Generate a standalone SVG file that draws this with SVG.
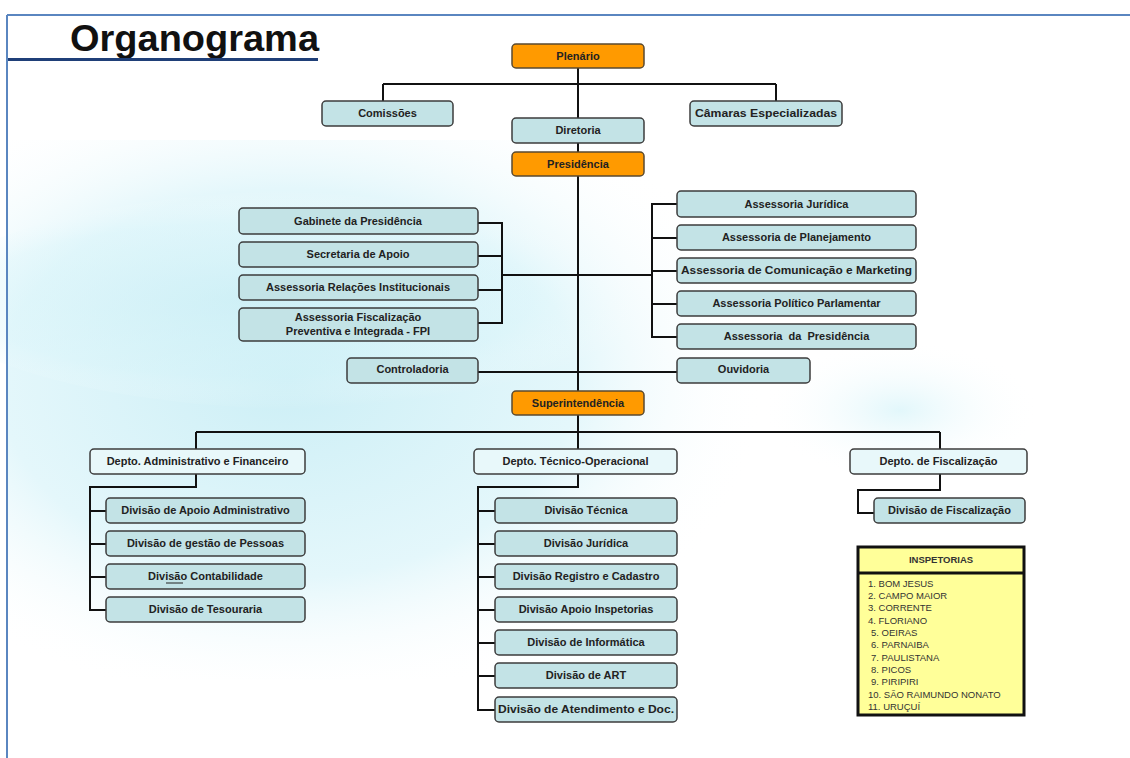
<svg xmlns="http://www.w3.org/2000/svg" width="1130" height="758" viewBox="0 0 1130 758">
<defs>
<radialGradient id="bg1" cx="0.35" cy="0.45" r="0.6">
<stop offset="0" stop-color="#cdeff6"/>
<stop offset="0.6" stop-color="#e4f7fb"/>
<stop offset="1" stop-color="#ffffff" stop-opacity="0"/>
</radialGradient>
<radialGradient id="band" cx="0.4" cy="0.5" r="0.5">
<stop offset="0" stop-color="#c9eef5" stop-opacity="0.6"/>
<stop offset="0.7" stop-color="#d9f5fa" stop-opacity="0.35"/>
<stop offset="1" stop-color="#ffffff" stop-opacity="0"/>
</radialGradient>
<radialGradient id="bg2" cx="0.5" cy="0.5" r="0.5">
<stop offset="0" stop-color="#e2f7fb"/>
<stop offset="1" stop-color="#ffffff" stop-opacity="0"/>
</radialGradient>
</defs>
<style>
.box{fill:#c3e3e6;stroke:#3d3d3d;stroke-width:1.5}
.dep{fill:#e8f8fa;stroke:#3d3d3d;stroke-width:1.5}
.org{fill:#ff9a00;stroke:#5a4a30;stroke-width:1.5}
.t{font-family:"Liberation Sans",Arial,sans-serif;font-weight:bold;font-size:11px;fill:#222;text-anchor:middle}
.c line,.c polyline{stroke:#111;stroke-width:2;fill:none}
.li{font-family:"Liberation Sans",Arial,sans-serif;font-size:9.5px;fill:#333}
</style>
<rect width="1130" height="758" fill="#ffffff"/>
<rect x="8" y="140" width="800" height="540" fill="url(#bg1)"/>
<ellipse cx="330" cy="300" rx="400" ry="110" fill="url(#band)"/>
<ellipse cx="900" cy="410" rx="140" ry="70" fill="url(#bg2)"/>
<line x1="7" y1="15" x2="1130" y2="15" stroke="#5a86c0" stroke-width="2"/>
<line x1="7" y1="15" x2="7" y2="758" stroke="#5a86c0" stroke-width="2"/>
<text x="70" y="51" font-family="Liberation Sans,Arial,sans-serif" font-weight="bold" font-size="36" fill="#111" textLength="249" lengthAdjust="spacingAndGlyphs">Organograma</text>
<line x1="8" y1="59.5" x2="318" y2="59.5" stroke="#1f3f78" stroke-width="3"/>

<g class="c" id="connectors">
<line x1="578" y1="68" x2="578" y2="118"/>
<line x1="383" y1="84" x2="776" y2="84"/>
<line x1="383" y1="84" x2="383" y2="101"/>
<line x1="776" y1="84" x2="776" y2="101"/>
<line x1="578" y1="143" x2="578" y2="152"/>
<line x1="578" y1="176" x2="578" y2="391"/>
<line x1="478" y1="223" x2="502" y2="223"/>
<line x1="478" y1="256" x2="502" y2="256"/>
<line x1="478" y1="290" x2="502" y2="290"/>
<line x1="478" y1="323" x2="502" y2="323"/>
<line x1="502" y1="222" x2="502" y2="324"/>
<line x1="502" y1="275" x2="652" y2="275"/>
<line x1="652" y1="203" x2="652" y2="338"/>
<line x1="652" y1="204" x2="677" y2="204"/>
<line x1="652" y1="238" x2="677" y2="238"/>
<line x1="652" y1="271" x2="677" y2="271"/>
<line x1="652" y1="304" x2="677" y2="304"/>
<line x1="652" y1="337" x2="677" y2="337"/>
<line x1="478" y1="372" x2="677" y2="372"/>
<line x1="578" y1="415" x2="578" y2="449"/>
<line x1="196" y1="432" x2="940" y2="432"/>
<line x1="196" y1="432" x2="196" y2="449"/>
<line x1="940" y1="432" x2="940" y2="449"/>
<polyline points="196,474 196,487 90,487 90,610 106,610"/>
<line x1="90" y1="511" x2="106" y2="511"/>
<line x1="90" y1="544" x2="106" y2="544"/>
<line x1="90" y1="577" x2="106" y2="577"/>
<polyline points="578,474 578,487 478,487 478,710 495,710"/>
<line x1="478" y1="511" x2="495" y2="511"/>
<line x1="478" y1="544" x2="495" y2="544"/>
<line x1="478" y1="577" x2="495" y2="577"/>
<line x1="478" y1="610" x2="495" y2="610"/>
<line x1="478" y1="643" x2="495" y2="643"/>
<line x1="478" y1="676" x2="495" y2="676"/>
<polyline points="940,474 940,490 858,490 858,513 875,513"/>
</g>

<g id="plenario"><rect class="org" x="512" y="44" width="132" height="24" rx="4"/><text class="t" x="578" y="60">Plenário</text></g>
<g id="comissoes"><rect class="box" x="322" y="101" width="131" height="25" rx="4"/><text class="t" x="387.5" y="117">Comissões</text></g>
<g id="camaras"><rect class="box" x="690" y="101" width="152" height="25" rx="4"/><text class="t" x="766" y="117" textLength="142" lengthAdjust="spacingAndGlyphs">Câmaras Especializadas</text></g>
<g id="diretoria"><rect class="box" x="512" y="118" width="132" height="25" rx="4"/><text class="t" x="578" y="134">Diretoria</text></g>
<g id="presidencia"><rect class="org" x="512" y="152" width="132" height="24" rx="4"/><text class="t" x="578" y="168">Presidência</text></g>

<g id="gabinete"><rect class="box" x="239" y="208" width="239" height="26" rx="4"/><text class="t" x="358" y="225">Gabinete da Presidência</text></g>
<g id="secretaria"><rect class="box" x="239" y="242" width="239" height="25" rx="4"/><text class="t" x="358" y="258">Secretaria de Apoio</text></g>
<g id="relacoes"><rect class="box" x="239" y="275" width="239" height="25" rx="4"/><text class="t" x="358" y="291">Assessoria Relações Institucionais</text></g>
<g id="fpi"><rect class="box" x="239" y="308" width="239" height="33" rx="4"/><text class="t" x="358" y="321">Assessoria Fiscalização</text><text class="t" x="358" y="335">Preventiva e Integrada - FPI</text></g>
<g id="controladoria"><rect class="box" x="347" y="358" width="131" height="25" rx="4"/><text class="t" x="412.5" y="373">Controladoria</text></g>

<g id="juridica"><rect class="box" x="677" y="191" width="239" height="26" rx="4"/><text class="t" x="796.5" y="208">Assessoria Jurídica</text></g>
<g id="planejamento"><rect class="box" x="677" y="225" width="239" height="25" rx="4"/><text class="t" x="796.5" y="241">Assessoria de Planejamento</text></g>
<g id="comunicacao"><rect class="box" x="677" y="258" width="239" height="25" rx="4"/><text class="t" x="796.5" y="274" textLength="231" lengthAdjust="spacingAndGlyphs">Assessoria de Comunicação e Marketing</text></g>
<g id="politico"><rect class="box" x="677" y="291" width="239" height="25" rx="4"/><text class="t" x="796.5" y="307">Assessoria Político Parlamentar</text></g>
<g id="assessoria-presidencia"><rect class="box" x="677" y="324" width="239" height="25" rx="4"/><text class="t" x="796.5" y="340" xml:space="preserve">Assessoria  da  Presidência</text></g>
<g id="ouvidoria"><rect class="box" x="677" y="358" width="133" height="25" rx="4"/><text class="t" x="743.5" y="373">Ouvidoria</text></g>

<g id="superintendencia"><rect class="org" x="512" y="391" width="132" height="24" rx="4"/><text class="t" x="578" y="407">Superintendência</text></g>

<g id="depto-adm"><rect class="dep" x="90" y="449" width="215" height="25" rx="4"/><text class="t" x="197.5" y="465">Depto. Administrativo e Financeiro</text></g>
<g id="depto-tec"><rect class="dep" x="474" y="449" width="203" height="25" rx="4"/><text class="t" x="575.5" y="465">Depto. Técnico-Operacional</text></g>
<g id="depto-fisc"><rect class="dep" x="850" y="449" width="177" height="25" rx="4"/><text class="t" x="938.5" y="465">Depto. de Fiscalização</text></g>

<g id="div-apoio-adm"><rect class="box" x="106" y="498" width="199" height="25" rx="4"/><text class="t" x="205.5" y="514">Divisão de Apoio Administrativo</text></g>
<g id="div-pessoas"><rect class="box" x="106" y="531" width="199" height="25" rx="4"/><text class="t" x="205.5" y="547">Divisão de gestão de Pessoas</text></g>
<g id="div-contabilidade"><rect class="box" x="106" y="564" width="199" height="25" rx="4"/><text class="t" x="205.5" y="580">Divisão Contabilidade</text><line x1="166" y1="583" x2="183" y2="583" stroke="#222" stroke-width="1"/></g>
<g id="div-tesouraria"><rect class="box" x="106" y="597" width="199" height="25" rx="4"/><text class="t" x="205.5" y="613">Divisão de Tesouraria</text></g>

<g id="div-tecnica"><rect class="box" x="495" y="498" width="182" height="25" rx="4"/><text class="t" x="586" y="514">Divisão Técnica</text></g>
<g id="div-juridica"><rect class="box" x="495" y="531" width="182" height="25" rx="4"/><text class="t" x="586" y="547">Divisão Jurídica</text></g>
<g id="div-registro"><rect class="box" x="495" y="564" width="182" height="25" rx="4"/><text class="t" x="586" y="580">Divisão Registro e Cadastro</text></g>
<g id="div-apoio-insp"><rect class="box" x="495" y="597" width="182" height="25" rx="4"/><text class="t" x="586" y="613">Divisão Apoio Inspetorias</text></g>
<g id="div-informatica"><rect class="box" x="495" y="630" width="182" height="25" rx="4"/><text class="t" x="586" y="646">Divisão de Informática</text></g>
<g id="div-art"><rect class="box" x="495" y="663" width="182" height="25" rx="4"/><text class="t" x="586" y="679">Divisão de ART</text></g>
<g id="div-atendimento"><rect class="box" x="495" y="697" width="182" height="25" rx="4"/><text class="t" x="586" y="713" textLength="176" lengthAdjust="spacingAndGlyphs">Divisão de Atendimento e Doc.</text></g>

<g id="div-fiscalizacao"><rect class="box" x="874" y="498" width="151" height="25" rx="4"/><text class="t" x="949.5" y="514">Divisão de Fiscalização</text></g>

<g id="inspetorias">
<rect x="858" y="547" width="166" height="168" fill="#ffff99" stroke="#111" stroke-width="3"/>
<line x1="858" y1="573" x2="1024" y2="573" stroke="#111" stroke-width="3"/>
<text x="941" y="563" font-family="Liberation Sans,Arial,sans-serif" font-weight="bold" font-size="9.5" fill="#333" text-anchor="middle">INSPETORIAS</text>
<text class="li" x="868" y="587">1. BOM JESUS</text>
<text class="li" x="868" y="599">2. CAMPO MAIOR</text>
<text class="li" x="868" y="611">3. CORRENTE</text>
<text class="li" x="868" y="624">4. FLORIANO</text>
<text class="li" x="871" y="636">5. OEIRAS</text>
<text class="li" x="871" y="648">6. PARNAIBA</text>
<text class="li" x="871" y="661">7. PAULISTANA</text>
<text class="li" x="871" y="673">8. PICOS</text>
<text class="li" x="871" y="685">9. PIRIPIRI</text>
<text class="li" x="868" y="698">10. SÃO RAIMUNDO NONATO</text>
<text class="li" x="868" y="710">11. URUÇUÍ</text>
</g>
</svg>
